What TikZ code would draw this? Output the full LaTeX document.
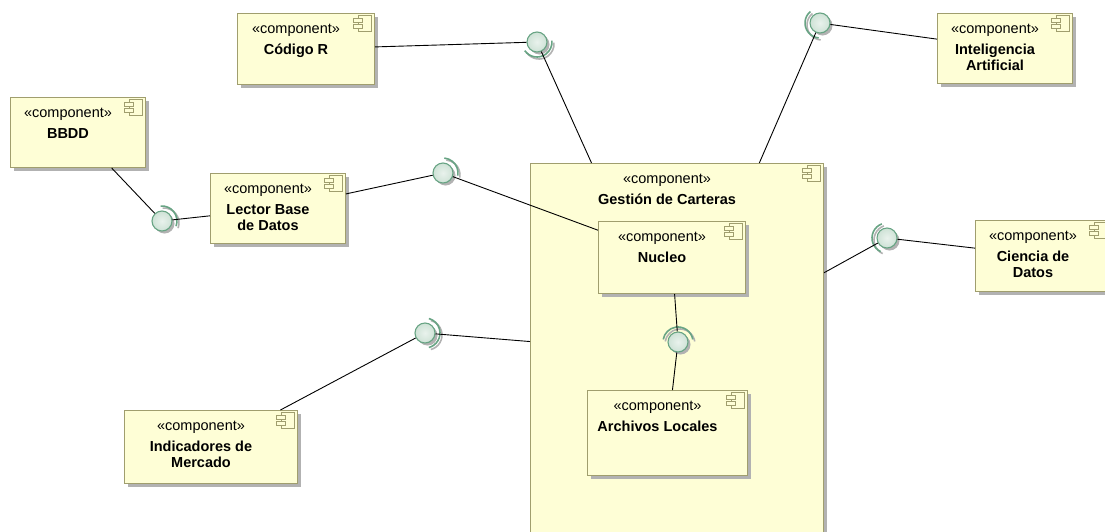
\documentclass[tikz,border=0pt]{standalone}
\usepackage{fontspec}
\setmainfont{Liberation Sans}
\usetikzlibrary{positioning,calc,shadows}

\definecolor{boxfill}{RGB}{254,254,214}
\definecolor{boxline}{RGB}{160,158,110}
\definecolor{ballfill}{RGB}{206,226,214}
\definecolor{ballline}{RGB}{104,164,132}
\definecolor{shadowgray}{RGB}{178,178,178}

\begin{document}
\begin{tikzpicture}[
  x=1pt, y=-1pt,
  font=\fontsize{14.5}{16.5}\selectfont,
  compbox/.style={draw=boxline, fill=boxfill, line width=1pt, anchor=north west, inner sep=0pt,
    general shadow={fill=shadowgray, shadow xshift=3pt, shadow yshift=-3pt}},
  comptext/.style={anchor=north, align=center, inner sep=0pt},
  ball/.style={circle, draw=ballline, line width=1.1pt, inner sep=0pt, minimum size=20pt,
    inner color=white!55!ballfill, outer color=ballfill,
    general shadow={fill=shadowgray, shadow xshift=2.5pt, shadow yshift=-2.5pt}},
  socket/.style={draw=ballline, line width=1.6pt},
  sockshadow/.style={draw=shadowgray, line width=1.6pt},
  conn/.style={draw=black, line width=0.9pt},
  compicon/.pic={
    \draw[boxline, line width=0.9pt, fill=boxfill] (-13,0) rectangle (0,16);
    \draw[boxline, line width=0.9pt, fill=boxfill] (-18,3) rectangle (-9,7);
    \draw[boxline, line width=0.9pt, fill=boxfill] (-18,9) rectangle (-9,13);
  }
]

\useasboundingbox (0,0) rectangle (1105,531);
\fill[white] (0,0) rectangle (1105,531);
\clip (0,0) rectangle (1105,531);

% ========== Components ==========
\node[compbox, minimum width=137pt, minimum height=71pt] (codigo) at (237,13) {};
\node[comptext] (codigo-txt) at ($(codigo.north)+(-10,11)$) {«component»\\[4pt]\textbf{Código R}};
\pic at ($(codigo.north east)+(-4,2)$) {compicon};

\node[compbox, minimum width=135pt, minimum height=70pt] (inteligencia) at (937,13) {};
\node[comptext] (inteligencia-txt) at ($(inteligencia.north)+(-10,11)$) {«component»\\[4pt]\textbf{Inteligencia}\\\textbf{Artificial}};
\pic at ($(inteligencia.north east)+(-4,2)$) {compicon};

\node[compbox, minimum width=135pt, minimum height=70pt] (bbdd) at (10,97) {};
\node[comptext] (bbdd-txt) at ($(bbdd.north)+(-10,11)$) {«component»\\[4pt]\textbf{BBDD}};
\pic at ($(bbdd.north east)+(-4,2)$) {compicon};

\node[compbox, minimum width=135pt, minimum height=70pt] (lector) at (210,173) {};
\node[comptext] (lector-txt) at ($(lector.north)+(-10,11)$) {«component»\\[4pt]\textbf{Lector Base}\\\textbf{de Datos}};
\pic at ($(lector.north east)+(-4,2)$) {compicon};

\node[compbox, minimum width=293pt, minimum height=380pt] (gestion) at (530,163) {};
\node[comptext] (gestion-txt) at ($(gestion.north)+(-10,11)$) {«component»\\[4pt]\textbf{Gestión de Carteras}};
\pic at ($(gestion.north east)+(-4,2)$) {compicon};

\node[compbox, minimum width=147pt, minimum height=72pt] (nucleo) at (598,221) {};
\node[comptext] (nucleo-txt) at ($(nucleo.north)+(-10,11)$) {«component»\\[4pt]\textbf{Nucleo}};
\pic at ($(nucleo.north east)+(-4,2)$) {compicon};

\node[compbox, minimum width=160pt, minimum height=85pt] (archivos) at (587,390) {};
\node[comptext] (archivos-txt) at ($(archivos.north)+(-10,11)$) {«component»\\[4pt]\textbf{Archivos Locales}};
\pic at ($(archivos.north east)+(-4,2)$) {compicon};

\node[compbox, minimum width=135pt, minimum height=71pt] (ciencia) at (975,220) {};
\node[comptext] (ciencia-txt) at ($(ciencia.north)+(-10,11)$) {«component»\\[4pt]\textbf{Ciencia de}\\\textbf{Datos}};
\pic at ($(ciencia.north east)+(-4,2)$) {compicon};

\node[compbox, minimum width=173pt, minimum height=73pt] (indicadores) at (124,410) {};
\node[comptext] (indicadores-txt) at ($(indicadores.north)+(-10,11)$) {«component»\\[4pt]\textbf{Indicadores de}\\\textbf{Mercado}};
\pic at ($(indicadores.north east)+(-4,2)$) {compicon};

% ========== Interfaces (ball + socket) ==========
\node[ball] (ballR)    at (537,42)  {};
\node[ball] (ballIA)   at (820,23)  {};
\node[ball] (ballBD)   at (162,221) {};
\node[ball] (ballLec)  at (443,173) {};
\node[ball] (ballCD)   at (887,238) {};
\node[ball] (ballIM)   at (425,333) {};
\node[ball] (ballArch) at (678,342) {};

\foreach \b/\s/\e in {ballR/215/365, ballIA/130/265, ballBD/-20/95, ballLec/-10/85,
                      ballCD/110/245, ballIM/-75/75, ballArch/10/170} {
  \draw[sockshadow] ($(\b)+(2pt,-2pt)+(\s:15pt)$) arc[start angle=\s, end angle=\e, radius=15pt];
  \draw[socket] ($(\b)+(\s:15pt)$) arc[start angle=\s, end angle=\e, radius=15pt];
}

% ========== Connectors ==========
\draw[conn] (codigo) -- (ballR);
\draw[conn] (ballR) -- (gestion);
\draw[conn] (gestion) -- (ballIA);
\draw[conn] (ballIA) -- (inteligencia);
\draw[conn] (bbdd) -- (ballBD);
\draw[conn] (ballBD) -- (lector);
\draw[conn] (lector) -- (ballLec);
\draw[conn] (ballLec) -- (nucleo);
\draw[conn] (gestion) -- (ballCD);
\draw[conn] (ballCD) -- (ciencia);
\draw[conn] (indicadores) -- (ballIM);
\draw[conn] (ballIM) -- (gestion);
\draw[conn] (nucleo) -- (ballArch);
\draw[conn] (ballArch) -- (archivos);

\end{tikzpicture}
\end{document}
